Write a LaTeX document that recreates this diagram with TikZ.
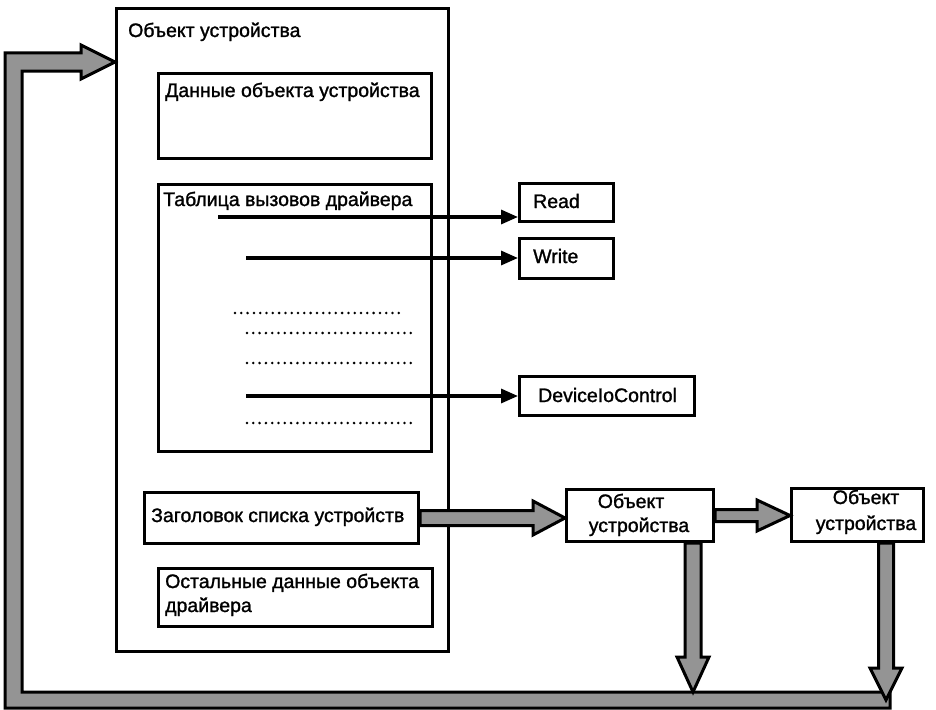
\documentclass[tikz,border=0pt]{standalone}
\usepackage{fontspec}
\setmainfont{Liberation Sans}
\newfontfamily\lblfont{Liberation Sans}[FakeBold=1.3]
\usetikzlibrary{arrows.meta,calc}

% wide outlined arrow pointing right: start, tip, shaft half-width, head half-width, head length
\newcommand{\fatright}[5]{%
  \path[fat] ($(#1)+(0,-#3)$) -- ($(#2)+(-#5,-#3)$) -- ($(#2)+(-#5,-#4)$) -- (#2)
    -- ($(#2)+(-#5,#4)$) -- ($(#2)+(-#5,#3)$) -- ($(#1)+(0,#3)$) -- cycle;}
% wide outlined arrow pointing down: start, tip, shaft half-width, head half-width, head length
\newcommand{\fatdown}[5]{%
  \path[fat] ($(#1)+(-#3,0)$) -- ($(#2)+(-#3,-#5)$) -- ($(#2)+(-#4,-#5)$) -- (#2)
    -- ($(#2)+(#4,-#5)$) -- ($(#2)+(#3,-#5)$) -- ($(#1)+(#3,0)$) -- cycle;}

\begin{document}
\begin{tikzpicture}[x=1pt,y=-1pt,
  frame/.style={draw, line width=3pt, inner sep=0pt, anchor=north west},
  lbl/.style={font=\lblfont\fontsize{19.5}{24}\selectfont, inner sep=0pt, anchor=base west},
  clbl/.style={lbl, anchor=base},
  ptr/.style={line width=3.2pt, -{Triangle[length=17pt,width=14pt]}},
  dots/.style={line width=2.8pt, line cap=round, dash pattern=on 0pt off 6.3pt},
  fat/.style={draw, line width=3pt, fill=black!42, line join=miter},
]
\useasboundingbox (0,0) rectangle (936,709);

% device object with its parts
\node[frame, line width=2.6pt, minimum width=332, minimum height=643] (outer) at (115,7) {};
\node[frame, minimum width=273, minimum height=85]  (data)  at (157,72) {};
\node[frame, minimum width=273, minimum height=267] (table) at (157,183) {};
\node[frame, minimum width=274, minimum height=51]  (hdr)   at (143,491) {};
\node[frame, minimum width=274, minimum height=58]  (rest)  at (157,567) {};

% dispatch routines
\node[frame, minimum width=94,  minimum height=38] (rd)  at (518,182) {};
\node[frame, minimum width=94,  minimum height=40] (wr)  at (518,237) {};
\node[frame, minimum width=175, minimum height=39] (ioc) at (518,375) {};

% further device objects in the list
\node[frame, minimum width=147, minimum height=52] (dev1) at (565,488) {};
\node[frame, minimum width=132, minimum height=53] (dev2) at (790,487) {};

% labels
\node[lbl] (tOuter) at (128,37)  {Объект устройства};
\node[lbl] (tData)  at (165,97)  {Данные объекта устройства};
\node[lbl] (tTable) at (163,206) {Таблица вызовов драйвера};
\node[lbl] (tRd)    at (533,208) {Read};
\node[lbl] (tWr)    at (533,263) {Write};
\node[lbl] (tIoc)   at (538,402) {DeviceIoControl};
\node[lbl] (tHdr)   at (151,522) {Заголовок списка устройств};
\node[lbl] (tRestA) at (165,588) {Остальные данные объекта};
\node[lbl] (tRestB) at (165,612) {драйвера};
\node[clbl] (tDevAa) at (631,508) {Объект};
\node[clbl] (tDevAb) at (639,532) {устройства};
\node[clbl] (tDevBa) at (866,504) {Объект};
\node[clbl] (tDevBb) at (866,530) {устройства};

% dispatch table entries
\coordinate (rdsrc)  at (218,217);
\coordinate (wrsrc)  at (246,258);
\coordinate (iocsrc) at (246,396);
\draw[ptr] (rdsrc)  -- (rdsrc -| rd.west);
\draw[ptr] (wrsrc)  -- (wrsrc -| wr.west);
\draw[ptr] (iocsrc) -- (iocsrc -| ioc.west);
\draw[dots] (235,313) -- (400,313);
\draw[dots] (247,333) -- (411,333);
\draw[dots] (247,363) -- (411,363);
\draw[dots] (247,423) -- (411,423);

% return path back to the first device object
\coordinate (looptip) at (outer.west |- 0,62);
\path[fat] (890,692) -- (890,708) -- (5,708) -- (5,53)
  -- ($(looptip)+(-34,-9)$) -- ($(looptip)+(-34,-17)$) -- (looptip)
  -- ($(looptip)+(-34,17)$) -- ($(looptip)+(-34,9)$)
  -- (22,71) -- (22,692) -- cycle;

% list links
\coordinate (h1) at (hdr.east);
\coordinate (h2) at (hdr.east -| dev1.west);
\fatright{h1}{h2}{7.5}{17}{32}
\coordinate (d1) at (dev1.east);
\coordinate (d2) at (dev1.east -| dev2.west);
\fatright{d1}{d2}{6}{15.5}{33}

% links down to the return path
\coordinate (v1) at ($(dev1.south east)+(-22,0)$);
\coordinate (v1t) at (v1 |- 0,692);
\fatdown{v1}{v1t}{8}{16}{35}
\coordinate (v2) at ($(dev2.south east)+(-39,0)$);
\coordinate (v2t) at (v2 |- 0,700);
\fatdown{v2}{v2t}{7.5}{16}{32}
\end{tikzpicture}
\end{document}
